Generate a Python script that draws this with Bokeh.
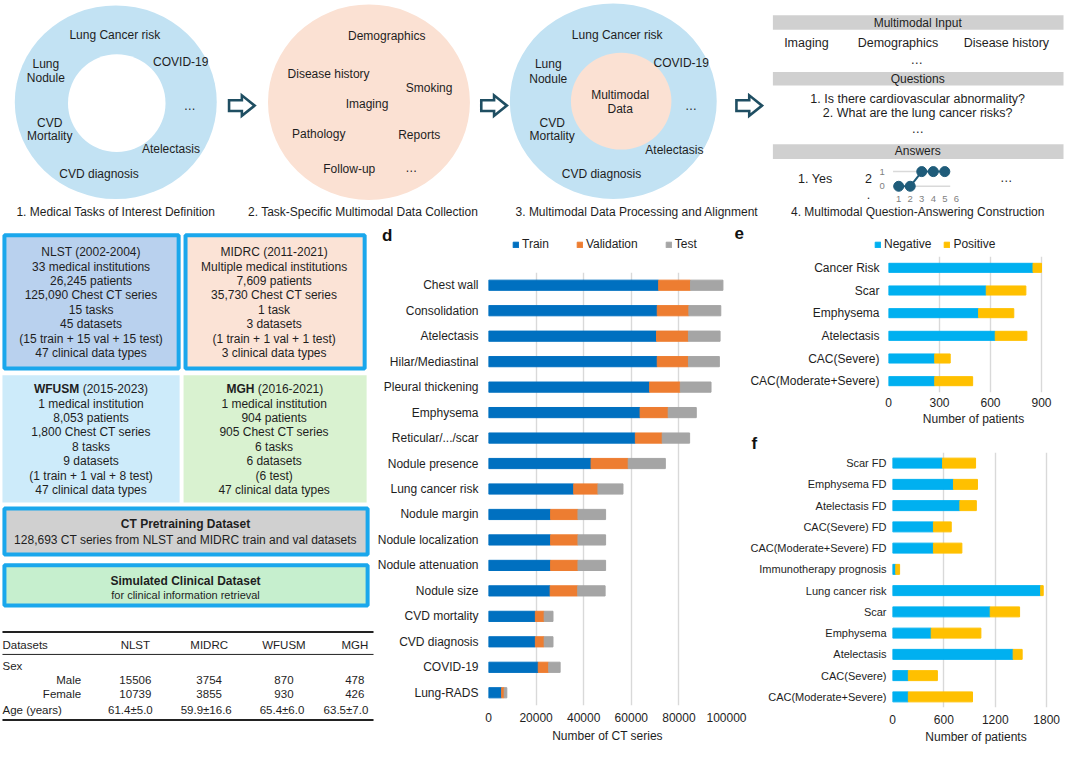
from bokeh.plotting import figure
from bokeh.layouts import column, row
from bokeh.models import (Range1d, FixedTicker, BasicTickFormatter, Legend, LegendItem,
                          ColumnDataSource)
from bokeh.core.properties import value
from bokeh.embed import file_html
from bokeh.resources import INLINE

FONT = "Liberation Sans"
TXT = "#1e1e1e"

# ---------------- data ----------------
d_categories = ["Chest wall", "Consolidation", "Atelectasis", "Hilar/Mediastinal",
                "Pleural thickening", "Emphysema", "Reticular/.../scar", "Nodule presence",
                "Lung cancer risk", "Nodule margin", "Nodule localization",
                "Nodule attenuation", "Nodule size", "CVD mortality", "CVD diagnosis",
                "COVID-19", "Lung-RADS"]
d_train = [71500, 70900, 70600, 70900, 67700, 63700, 61700, 43100, 35800,
           26100, 26100, 26100, 25900, 19700, 19700, 20900, 5500]
d_val = [13400, 13300, 13400, 13100, 12900, 11800, 11300, 15600, 10200,
         11500, 11500, 11500, 11600, 3700, 3700, 4400, 1100]
d_test = [13600, 13400, 13300, 13000, 12900, 11800, 11500, 15600, 10500,
          11600, 11600, 11600, 11500, 3700, 3700, 4800, 1100]
d_ticks = [0, 20000, 40000, 60000, 80000, 100000]

e_categories = ["Cancer Risk", "Scar", "Emphysema", "Atelectasis", "CAC(Severe)",
                "CAC(Moderate+Severe)"]
e_negative = [850, 575, 530, 628, 272, 272]
e_positive = [50, 233, 207, 186, 91, 223]
e_ticks = [0, 300, 600, 900]

f_categories = ["Scar FD", "Emphysema FD", "Atelectasis FD", "CAC(Severe) FD",
                "CAC(Moderate+Severe) FD", "Immunotherapy prognosis", "Lung cancer risk",
                "Scar", "Emphysema", "Atelectasis", "CAC(Severe)", "CAC(Moderate+Severe)"]
f_negative = [585, 712, 787, 478, 478, 38, 1730, 1141, 452, 1409, 185, 185]
f_positive = [385, 280, 192, 208, 332, 45, 30, 343, 580, 105, 339, 749]
f_ticks = [0, 600, 1200, 1800]

answer_values = [0, 0, 1, 1, 1]
answer_ticks = [1, 2, 3, 4, 5, 6]

table_columns = ["NLST", "MIDRC", "WFUSM", "MGH"]
table_male = ["15506", "3754", "870", "478"]
table_female = ["10739", "3855", "930", "426"]
table_age = ["61.4±5.0", "59.9±16.6", "65.4±6.0", "63.5±7.0"]

nlst_lines = ["NLST (2002-2004)", "33 medical institutions", "26,245 patients",
              "125,090 Chest CT series", "15 tasks", "45 datasets",
              "(15 train + 15 val + 15 test)", "47 clinical data types"]
midrc_lines = ["MIDRC (2011-2021)", "Multiple medical institutions", "7,609 patients",
               "35,730 Chest CT series", "1 task", "3 datasets",
               "(1 train + 1 val + 1 test)", "3 clinical data types"]
wfusm_lines = ["1 medical institution", "8,053 patients", "1,800 Chest CT series",
               "8 tasks", "9 datasets", "(1 train + 1 val + 8 test)", "47 clinical data types"]
mgh_lines = ["1 medical institution", "904 patients", "905 Chest CT series", "6 tasks",
             "6 datasets", "(6 test)", "47 clinical data types"]

TRAIN, VAL, TEST = "#0070C0", "#ED7D31", "#A5A5A5"
NEG, POS = "#00B0F0", "#FFC000"
BORDER = "#1AA7EC"
DARK = "#1F4E62"


def blank(w, h, xr, yr):
    p = figure(width=w, height=h, x_range=Range1d(*xr), y_range=Range1d(*yr),
               output_backend="svg", toolbar_location=None, x_axis_type=None,
               y_axis_type=None, min_border=0, frame_align=False)
    p.outline_line_color = None
    p.grid.visible = False
    return p


def txt(p, xs, ys, texts, size="12px", align="center", style="normal", color=TXT):
    p.text(x=xs, y=ys, text=texts, text_font=value(FONT), text_font_size=size,
           text_align=align, text_baseline="middle", text_font_style=style,
           text_color=color)


def style_legend(lg, spacing):
    lg.orientation = "horizontal"
    lg.border_line_color = None
    lg.background_fill_alpha = 0
    lg.padding = 0
    lg.margin = 0
    lg.spacing = spacing
    lg.glyph_width = 7
    lg.glyph_height = 7
    lg.label_standoff = 3
    lg.label_height = 12
    lg.label_text_font = FONT
    lg.label_text_font_size = "12px"
    lg.label_text_color = TXT


# ---------------- top strip ----------------
top = blank(1064, 220, (0, 1080), (225, 0))
top.ellipse(x=[117, 374, 622], y=[104, 104, 103], width=[205, 205, 210],
            height=[198, 200, 200], fill_color=["#C2E2F3", "#FBE1D3", "#C2E2F3"],
            line_color=None)
top.ellipse(x=[118, 630], y=[105, 103], width=[99, 102], height=[100, 99],
            fill_color=["white", "#FBE1D3"], line_color=None)
t1 = [("Lung Cancer risk", 116, 35), ("Lung", 46, 65), ("Nodule", 46, 79),
      ("COVID-19", 183, 63), ("…", 192, 108), ("CVD", 50, 125), ("Mortality", 50, 139),
      ("Atelectasis", 173, 152), ("CVD diagnosis", 100, 177)]
t2 = [("Demographics", 392, 36), ("Disease history", 333, 75), ("Smoking", 435, 89),
      ("Imaging", 372, 106), ("Pathology", 323, 137), ("Reports", 425, 138),
      ("Follow-up", 354, 172), ("…", 417, 171)]
t3 = [("Lung Cancer risk", 626, 35), ("Lung", 556, 65), ("Nodule", 556, 80),
      ("COVID-19", 691, 64), ("Multimodal", 629, 97), ("Data", 629, 111),
      ("…", 701, 108), ("CVD", 560, 125), ("Mortality", 560, 139),
      ("Atelectasis", 684, 153), ("CVD diagnosis", 610, 177)]
allt = t1 + t2 + t3
txt(top, [a[1] for a in allt], [a[2] for a in allt], [a[0] for a in allt])
caps = [("1. Medical Tasks of Interest Definition", 117),
        ("2. Task-Specific Multimodal Data Collection", 368),
        ("3. Multimodal Data Processing and Alignment", 646),
        ("4. Multimodal Question-Answering Construction", 931)]
txt(top, [c[1] for c in caps], [216] * 4, [c[0] for c in caps])

shape = [(0, -5.5), (13, -5.5), (13, -10.5), (26, 0), (13, 10.5), (13, 5.5), (0, 5.5)]
ax0 = [232, 488, 747]
top.patches(xs=[[a + s[0] for s in shape] for a in ax0],
            ys=[[107.5 + s[1] for s in shape] for a in ax0],
            fill_color="white", line_color=DARK, line_width=2.6, line_join="miter")

top.quad(left=[784] * 3, right=[1079] * 3, top=[15, 73, 147], bottom=[30, 87, 162],
         fill_color="#D0D0D0", line_color=None)
txt(top, [931, 931, 931], [23, 80, 154], ["Multimodal Input", "Questions", "Answers"])
txt(top, [818, 911, 1021, 930], [43, 43, 43, 61],
    ["Imaging", "Demographics", "Disease history", "…"], size="12.5px")
txt(top, [931, 931, 931], [101, 115, 131],
    ["1. Is there cardiovascular abnormality?", "2. What are the lung cancer risks?", "…"],
    size="12.5px")
txt(top, [827, 881, 881, 1021], [183, 182, 198, 182], ["1. Yes", "2", ".", "…"],
    size="12.5px")
gx0, gdx, gy0, gdy = 911.7, 11.7, 190, 15
top.segment(x0=[906, 906], x1=[964, 964], y0=[gy0 - gdy, gy0], y1=[gy0 - gdy, gy0],
            line_color="#D9D9D9", line_width=1.5)
txt(top, [895, 895], [gy0 - gdy, gy0], ["1", "0"], size="9.5px", color="#7F7F7F")
txt(top, [gx0 + (t - 1) * gdx for t in answer_ticks], [203] * 6,
    [str(t) for t in answer_ticks], size="9.5px", color="#7F7F7F")
axs = [gx0 + i * gdx for i in range(len(answer_values))]
ays = [gy0 - v * gdy for v in answer_values]
top.line(axs, ays, line_color="#1F5C7A", line_width=2)
top.scatter(axs, ays, size=10, fill_color="#1F5C7A", line_color="#1F5C7A")

# ---------------- left panel ----------------
left = blank(374, 526, (0, 380), (762, 225))
left.quad(left=[4, 188, 4, 4], right=[181, 370, 373, 373], top=[240, 240, 519, 577],
          bottom=[376, 376, 566, 618],
          fill_color=["#B9D1EE", "#FBE3D6", "#D0D0D0", "#C6EFCE"],
          line_color=BORDER, line_width=4)
left.quad(left=[2, 186], right=[182, 372], top=[383, 383], bottom=[513, 513],
          fill_color=["#CDEBFA", "#D9F2D0"], line_color=None)
ly = [257, 272, 287, 301, 316, 331, 346, 360]
txt(left, [92] * 8, ly, nlst_lines)
txt(left, [278] * 8, ly, midrc_lines)
ly2 = [397, 412, 427, 441, 456, 471, 486, 500]
txt(left, [92] * 7, ly2[1:], wfusm_lines)
txt(left, [278] * 7, ly2[1:], mgh_lines)
txt(left, [80, 258], [397, 397], ["WFUSM", "MGH"], align="right", style="bold")
txt(left, [83.5, 261.5], [397, 397], ["(2015-2023)", "(2016-2021)"], align="left")
txt(left, [188, 188], [535, 593], ["CT Pretraining Dataset", "Simulated Clinical Dataset"],
    style="bold")
txt(left, [188], [551], ["128,693 CT series from NLST and MIDRC train and val datasets"])
txt(left, [188], [607], ["for clinical information retrieval"], size="11px")
left.segment(x0=[2, 2, 2], x1=[379, 379, 379], y0=[645, 668, 735], y1=[645, 668, 735],
             line_color="#222222", line_width=[2, 1, 2])
txt(left, [2, 2, 2], [658, 680, 725], ["Datasets", "Sex", "Age (years)"], size="11.5px",
    align="left")
txt(left, [82, 82], [694, 708], ["Male", "Female"], size="11.5px", align="right")
txt(left, [137, 212, 288, 360], [658] * 4, table_columns, size="11.5px")
txt(left, [137, 212, 288, 360], [694] * 4, table_male, size="11.5px")
txt(left, [137, 212, 288, 360], [708] * 4, table_female, size="11.5px")
txt(left, [132, 209, 286, 351], [725] * 4, table_age, size="11.5px")

# ---------------- header above d / e (panel letters and legends) ----------------
header = blank(690, 36, (380, 1080), (262, 225))
txt(header, [393, 750], [240, 238], ["d", "e"], size="17px", style="bold", color="#111111")
# legend-only renderers: a single zero-length bar placed outside the visible range
proxy = ColumnDataSource(dict(y=[10000], left=[0], right=[0]))
hr = {}
for key, col in [("Train", TRAIN), ("Validation", VAL), ("Test", TEST),
                 ("Negative", NEG), ("Positive", POS)]:
    hr[key] = header.hbar(y="y", left="left", right="right", height=1, source=proxy,
                          fill_color=col, line_color=col)
leg_d = Legend(items=[LegendItem(label=k, renderers=[hr[k]])
                      for k in ["Train", "Validation", "Test"]], location=(138, 5))
style_legend(leg_d, 27)
leg_e = Legend(items=[LegendItem(label=k, renderers=[hr[k]])
                      for k in ["Negative", "Positive"]], location=(500, 5))
style_legend(leg_e, 12)
header.add_layout(leg_d)
header.add_layout(leg_e)


# ---------------- bar charts ----------------
def bar_chart(w, h, cats, xmax, ticks, borders, stackers, colors, data,
              height, xlabel, standoffs, ylab_size="12px"):
    n = len(cats)
    p = figure(width=w, height=h, x_range=Range1d(0, xmax),
               y_range=Range1d(n - 0.5, -0.5), output_backend="svg",
               toolbar_location=None, min_border_left=borders[0],
               min_border_right=borders[1], min_border_top=borders[2],
               min_border_bottom=borders[3], frame_align=False)
    src = ColumnDataSource(dict(y=list(range(n)), **data))
    p.hbar_stack(stackers, y="y", height=height, color=colors, source=src)
    p.outline_line_color = None
    p.ygrid.grid_line_color = None
    p.xgrid.ticker = FixedTicker(ticks=ticks)
    p.xgrid.grid_line_color = "#D9D9D9"
    p.xgrid.grid_line_width = 1.4
    p.yaxis.ticker = FixedTicker(ticks=list(range(n)))
    p.yaxis.major_label_overrides = {i: c for i, c in enumerate(cats)}
    p.xaxis.ticker = FixedTicker(ticks=ticks)
    p.xaxis.formatter = BasicTickFormatter(use_scientific=False)
    p.xaxis.axis_label = xlabel
    for ax in (p.xaxis, p.yaxis):
        ax.axis_line_color = None
        ax.major_tick_line_color = None
        ax.minor_tick_line_color = None
        ax.major_tick_out = 0
        ax.major_tick_in = 0
        ax.minor_tick_out = 0
        ax.minor_tick_in = 0
        ax.major_label_text_font = FONT
        ax.major_label_text_font_size = "12px"
        ax.major_label_text_color = TXT
    p.yaxis.major_label_text_font_size = ylab_size
    p.yaxis.major_label_standoff = standoffs[0]
    p.xaxis.major_label_standoff = standoffs[1]
    p.xaxis.axis_label_standoff = standoffs[2]
    p.xaxis.axis_label_text_font = FONT
    p.xaxis.axis_label_text_font_size = "12px"
    p.xaxis.axis_label_text_font_style = "normal"
    p.xaxis.axis_label_text_color = TXT
    return p


dfig = bar_chart(373, 490, d_categories, 100000, d_ticks, (112, 21, 16, 41),
                 ["train", "val", "test"], [TRAIN, VAL, TEST],
                 dict(train=d_train, val=d_val, test=d_test), 0.4,
                 "Number of CT series", (10, 7, 4))

efig = bar_chart(317, 175, e_categories, 1000, e_ticks, (138, 6, 0, 39),
                 ["neg", "pos"], [NEG, POS],
                 dict(neg=e_negative, pos=e_positive), 0.4,
                 "Number of patients", (9, 5, 2))

ffig = bar_chart(317, 315, f_categories, 1950, f_ticks, (143, 5, 21, 39),
                 ["neg", "pos"], [NEG, POS],
                 dict(neg=f_negative, pos=f_positive), 0.47,
                 "Number of patients", (6, 7, 3), ylab_size="11px")
ffig.title.text = "f"
ffig.title.align = "left"
ffig.title.offset = -141
ffig.title.standoff = 0
ffig.title.text_font = FONT
ffig.title.text_font_size = "17px"
ffig.title.text_font_style = "bold"
ffig.title.text_color = "#111111"

right_block = column(header, row(dfig, column(efig, ffig, spacing=0), spacing=0), spacing=0)
layout = column(top, row(left, right_block, spacing=0), spacing=0)

open("out.html", "w").write(file_html(layout, INLINE, title="figure"))
